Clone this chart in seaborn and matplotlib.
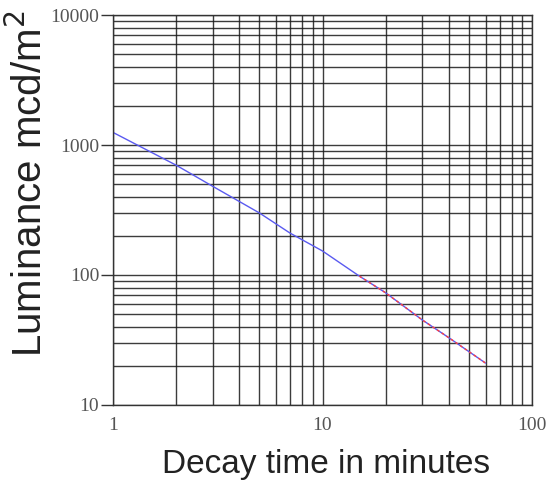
import numpy as np
import pandas as pd
import matplotlib
matplotlib.use("Agg")
import matplotlib.pyplot as plt
import matplotlib.ticker as mticker
import seaborn as sns

# decay curve
minutes = [1, 2, 3, 5, 7, 10, 15, 20, 30, 40, 60]
luminance = [1250, 700, 480, 300, 210, 153, 98, 73, 45, 33, 21]

# fitted part (red dashed), covers the tail
fit_minutes = [15, 20, 30, 40, 60]
fit_luminance = [98, 73, 45, 33, 21]

df = pd.DataFrame({'Decay time': minutes, 'Luminance': luminance})
df_fit = pd.DataFrame({'Decay time': fit_minutes, 'Luminance': fit_luminance})

sns.set_style("white")
plt.rcParams['font.family'] = ['Liberation Sans', 'DejaVu Sans']

fig = plt.figure(figsize=(5.47, 4.82), dpi=100)
ax = fig.add_axes([0.2066, 0.1598, 0.766, 0.809])

sns.lineplot(x='Decay time', y='Luminance', data=df, ax=ax, color='#5a5af0', linewidth=1)
sns.lineplot(x='Decay time', y='Luminance', data=df_fit, ax=ax, color='#ff4040',
             linewidth=1, linestyle=(0, (2, 2)))

ax.set_xscale('log')
ax.set_yscale('log')
ax.set_xlim(1, 100)
ax.set_ylim(10, 10000)

ax.xaxis.set_major_locator(mticker.FixedLocator([1, 10, 100]))
ax.yaxis.set_major_locator(mticker.FixedLocator([10, 100, 1000, 10000]))
ax.xaxis.set_major_formatter(mticker.FuncFormatter(lambda v, p: '%d' % v))
ax.yaxis.set_major_formatter(mticker.FuncFormatter(lambda v, p: '%d' % v))
ax.xaxis.set_minor_locator(mticker.LogLocator(base=10, subs=np.arange(2, 10)))
ax.yaxis.set_minor_locator(mticker.LogLocator(base=10, subs=np.arange(2, 10)))
ax.xaxis.set_minor_formatter(mticker.NullFormatter())
ax.yaxis.set_minor_formatter(mticker.NullFormatter())

ax.grid(True, which='both', color='#1a1a1a', linewidth=1, alpha=0.85)

for lbl in ax.get_xticklabels() + ax.get_yticklabels():
    lbl.set_family(['Liberation Serif', 'DejaVu Serif'])
    lbl.set_fontsize(14)
    lbl.set_color('#555555')

ax.tick_params(axis='y', which='major', length=9, width=1, color='#333333', left=True, pad=1)
ax.tick_params(axis='y', which='minor', length=0)
ax.tick_params(axis='x', which='both', length=0, pad=9)

for s in ax.spines.values():
    s.set_color('#333333')
    s.set_linewidth(1)

ax.set_xlabel('Decay time in minutes', fontsize=24, color='#222222')
ax.set_ylabel('Luminance mcd/m$^2$', fontsize=29, color='#222222')
ax.xaxis.set_label_coords(0.508, -0.112)
ax.yaxis.set_label_coords(-0.15, 0.568)

fig.savefig('out.png', dpi=100)
